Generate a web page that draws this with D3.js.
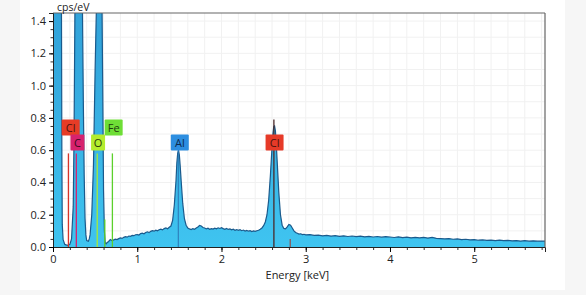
<!DOCTYPE html>
<html>
<head>
<meta charset="utf-8">
<script src="https://cdn.jsdelivr.net/npm/d3@7"></script>
<style>
  html, body { margin: 0; padding: 0; background: #f6f6f6; }
  #chart { width: 586px; height: 295px; }
  text { font-family: "Open Sans", "DejaVu Sans", sans-serif; }
</style>
</head>
<body>
<div id="chart"></div>
<script>
// spectrum: [energy keV, cps/eV]
var spectrum = [
  [0.00, 4.0], [0.05, 6.0], [0.09, 2.6], [0.10, 1.55], [0.105, 0.6], [0.11, 0.14], [0.12, 0.045],
  [0.14, 0.016], [0.17, 0.010], [0.20, 0.016], [0.22, 0.05], [0.24, 0.25], [0.25, 0.7],
  [0.26, 1.45], [0.27, 2.5], [0.30, 4.0], [0.33, 2.6], [0.35, 1.45], [0.36, 0.9], [0.37, 0.45],
  [0.38, 0.18], [0.39, 0.075], [0.40, 0.04], [0.42, 0.036], [0.43, 0.05], [0.44, 0.075],
  [0.46, 0.2], [0.48, 0.5], [0.50, 1.1], [0.52, 1.6], [0.55, 3.0], [0.58, 1.6], [0.59, 1.0],
  [0.60, 0.35], [0.61, 0.1], [0.62, 0.025], [0.63, 0.02],
  [0.64, 0.026], [0.66, 0.034], [0.68, 0.046], [0.70, 0.040], [0.72, 0.044], [0.74, 0.049],
  [0.76, 0.046], [0.78, 0.052], [0.80, 0.056], [0.82, 0.053], [0.84, 0.060], [0.86, 0.064],
  [0.88, 0.061], [0.90, 0.068], [0.92, 0.066], [0.94, 0.072], [0.96, 0.070], [0.98, 0.076],
  [1.00, 0.077], [1.02, 0.074], [1.04, 0.083], [1.06, 0.086], [1.08, 0.082], [1.10, 0.090],
  [1.12, 0.094], [1.14, 0.089], [1.16, 0.097], [1.18, 0.101], [1.20, 0.098], [1.22, 0.104],
  [1.24, 0.100], [1.26, 0.107], [1.28, 0.111], [1.30, 0.106], [1.32, 0.114], [1.34, 0.118],
  [1.36, 0.113], [1.38, 0.122], [1.40, 0.130], [1.42, 0.165], [1.44, 0.26], [1.46, 0.41],
  [1.47, 0.52], [1.48, 0.58], [1.49, 0.60], [1.50, 0.57], [1.51, 0.50], [1.52, 0.42],
  [1.54, 0.27], [1.56, 0.175], [1.58, 0.135], [1.60, 0.118], [1.62, 0.112], [1.64, 0.108],
  [1.66, 0.114], [1.68, 0.110], [1.70, 0.117], [1.72, 0.124], [1.74, 0.134], [1.76, 0.130],
  [1.78, 0.121], [1.80, 0.118], [1.82, 0.112], [1.84, 0.116], [1.86, 0.110], [1.88, 0.114],
  [1.90, 0.111], [1.92, 0.117], [1.94, 0.113], [1.96, 0.119], [1.98, 0.115], [2.00, 0.120],
  [2.02, 0.114], [2.04, 0.110], [2.06, 0.115], [2.08, 0.109], [2.10, 0.112], [2.12, 0.106],
  [2.14, 0.110], [2.16, 0.104], [2.18, 0.108], [2.20, 0.103], [2.22, 0.107], [2.24, 0.101],
  [2.26, 0.105], [2.28, 0.099], [2.30, 0.103], [2.32, 0.098], [2.34, 0.101], [2.36, 0.096],
  [2.38, 0.100], [2.40, 0.097], [2.42, 0.101], [2.44, 0.104], [2.46, 0.110], [2.48, 0.118],
  [2.50, 0.132], [2.52, 0.155], [2.54, 0.20], [2.56, 0.29], [2.58, 0.44], [2.60, 0.62],
  [2.61, 0.70], [2.62, 0.745], [2.63, 0.75], [2.64, 0.72], [2.65, 0.64], [2.66, 0.54],
  [2.68, 0.34], [2.70, 0.20], [2.72, 0.135], [2.74, 0.115], [2.76, 0.112], [2.78, 0.125],
  [2.80, 0.140], [2.82, 0.135], [2.84, 0.118], [2.86, 0.100], [2.88, 0.090], [2.90, 0.085],
  [2.92, 0.080], [2.94, 0.082], [2.96, 0.077], [2.98, 0.079], [3.00, 0.075], [3.05, 0.077],
  [3.10, 0.072], [3.15, 0.074], [3.20, 0.069], [3.25, 0.072], [3.30, 0.068], [3.35, 0.070],
  [3.40, 0.066], [3.45, 0.069], [3.50, 0.065], [3.55, 0.068], [3.60, 0.064], [3.65, 0.067],
  [3.70, 0.063], [3.75, 0.066], [3.80, 0.062], [3.85, 0.065], [3.90, 0.061], [3.95, 0.064],
  [4.00, 0.062], [4.05, 0.059], [4.10, 0.063], [4.15, 0.058], [4.20, 0.061], [4.25, 0.057],
  [4.30, 0.060], [4.35, 0.056], [4.40, 0.059], [4.45, 0.055], [4.50, 0.060], [4.55, 0.054],
  [4.60, 0.052], [4.65, 0.050], [4.70, 0.052], [4.75, 0.048], [4.80, 0.050], [4.85, 0.046],
  [4.90, 0.048], [4.95, 0.044], [5.00, 0.046], [5.05, 0.042], [5.10, 0.044], [5.15, 0.041],
  [5.20, 0.043], [5.25, 0.040], [5.30, 0.042], [5.35, 0.039], [5.40, 0.041], [5.45, 0.038],
  [5.50, 0.040], [5.55, 0.037], [5.60, 0.039], [5.65, 0.036], [5.70, 0.038], [5.75, 0.036],
  [5.80, 0.037], [5.84, 0.036]
];

// element marker lines
var markerEnergy = [0.183, 0.277, 0.525, 0.615, 0.705, 1.487, 2.622, 2.816];
var markerHeight = [0.58, 0.58, 0.58, 0.17, 0.58, 0.60, 0.79, 0.05];
var markerColor = ["#d8342a", "#d6226e", "#a6ea3a", "#5cd02c", "#5cd02c", "#2a74b4", "#4a2a2a", "#8a5a5a"];

// element labels
var labelText = ["Cl", "C", "O", "Fe", "Al", "Cl"];
var labelEnergy = [0.21, 0.29, 0.535, 0.72, 1.505, 2.63];
var labelLevel = [0.74, 0.647, 0.647, 0.74, 0.647, 0.647];
var labelColor = ["#e63c26", "#d6226e", "#b4ec2e", "#6ede36", "#2d8ee0", "#e63a28"];
var labelInk = ["#4a120c", "#3a0820", "#2a3a08", "#1e3a0c", "#0c2a4e", "#4a120c"];

var yTicks = [0.0, 0.2, 0.4, 0.6, 0.8, 1.0, 1.2, 1.4];
var xTicks = [0, 1, 2, 3, 4, 5];

var margin = { top: 13, right: 41, bottom: 48, left: 53 };
var W = 586, H = 295;
var width = W - margin.left - margin.right;
var height = H - margin.top - margin.bottom;

var svg = d3.select("#chart").append("svg")
  .attr("width", W).attr("height", H);

// white card
svg.append("rect").attr("x", 20).attr("y", 0).attr("width", 545).attr("height", 290)
  .attr("fill", "#ffffff");

var g = svg.append("g").attr("transform", "translate(" + margin.left + "," + margin.top + ")");

var x = d3.scaleLinear().domain([0, 5.84]).range([0, width]);
var y = d3.scaleLinear().domain([0, 1.45]).range([height, 0]);

// faint grid
g.append("g").selectAll("line").data(d3.range(0.1, 1.45, 0.1)).join("line")
  .attr("x1", 0).attr("x2", width).attr("y1", d => y(d)).attr("y2", d => y(d))
  .attr("stroke", "#f1f1f1");
g.append("g").selectAll("line").data(d3.range(0.2, 5.84, 0.2)).join("line")
  .attr("y1", 0).attr("y2", height).attr("x1", d => x(d)).attr("x2", d => x(d))
  .attr("stroke", "#f1f1f1");

var defs = svg.append("defs");
defs.append("clipPath").attr("id", "clip").append("rect")
  .attr("width", width).attr("height", height);
var grad = defs.append("linearGradient").attr("id", "fillGrad")
  .attr("x1", 0).attr("x2", 0).attr("y1", 0).attr("y2", 1);
grad.append("stop").attr("offset", "0%").attr("stop-color", "#2a86c6");
grad.append("stop").attr("offset", "80%").attr("stop-color", "#33a6dc");
grad.append("stop").attr("offset", "100%").attr("stop-color", "#3fc4f0");

var plot = g.append("g").attr("clip-path", "url(#clip)");

var area = d3.area()
  .x(d => x(d[0]))
  .y0(height)
  .y1(d => y(d[1]));
var line = d3.line()
  .x(d => x(d[0]))
  .y(d => y(d[1]));

plot.append("path").datum(spectrum)
  .attr("d", area)
  .attr("fill", "url(#fillGrad)");
plot.append("path").datum(spectrum)
  .attr("d", line)
  .attr("fill", "none")
  .attr("stroke", "#1a5a8c")
  .attr("stroke-width", 1.2);

// marker lines
plot.append("g").selectAll("line").data(markerEnergy).join("line")
  .attr("x1", d => x(d)).attr("x2", d => x(d))
  .attr("y1", height).attr("y2", (d, i) => y(markerHeight[i]))
  .attr("stroke", (d, i) => markerColor[i])
  .attr("stroke-width", (d, i) => i === 5 ? 1 : 1.3);

// label boxes
var lab = g.append("g").selectAll("g").data(labelText).join("g")
  .attr("transform", (d, i) => "translate(" + x(labelEnergy[i]) + "," + y(labelLevel[i]) + ")");
lab.append("rect")
  .attr("x", d => d.length > 1 ? -9 : -7)
  .attr("width", d => d.length > 1 ? 18 : 14)
  .attr("y", -8).attr("height", 16)
  .attr("rx", 1)
  .attr("fill", (d, i) => labelColor[i]);
lab.append("text")
  .attr("text-anchor", "middle")
  .attr("dy", "0.36em")
  .attr("font-size", 11)
  .attr("fill", (d, i) => labelInk[i])
  .text(d => d);

// frame top and right
g.append("line").attr("x1", 0).attr("x2", width).attr("y1", 0).attr("y2", 0)
  .attr("stroke", "#666").attr("stroke-width", 1.2);
g.append("line").attr("x1", width).attr("x2", width).attr("y1", 0).attr("y2", height)
  .attr("stroke", "#666").attr("stroke-width", 1.2);

// axes
var yAxis = d3.axisLeft(y).tickValues(yTicks).tickFormat(d3.format(".1f")).tickSize(4).tickPadding(3);
var yMinor = d3.axisLeft(y).tickValues(d3.range(0, 1.45, 0.05)).tickFormat("").tickSize(2.5);
var xAxis = d3.axisBottom(x).tickValues(xTicks).tickFormat(d3.format("d")).tickSize(5).tickPadding(3);
var xMinor = d3.axisBottom(x).tickValues(d3.range(0, 5.84, 0.2)).tickFormat("").tickSize(3);

g.append("g").call(yMinor).call(a => a.select(".domain").remove())
  .selectAll("line").attr("stroke", "#333");
g.append("g").call(yAxis).call(a => a.select(".domain").attr("stroke", "#222"))
  .call(a => a.selectAll("text").attr("font-size", 11).attr("fill", "#222")
    .attr("font-family", "'Open Sans', sans-serif"));
g.append("g").attr("transform", "translate(0," + height + ")").call(xMinor)
  .call(a => a.select(".domain").remove())
  .selectAll("line").attr("stroke", "#333");
g.append("g").attr("transform", "translate(0," + height + ")").call(xAxis)
  .call(a => a.select(".domain").attr("stroke", "#222"))
  .call(a => a.selectAll("text").attr("font-size", 11).attr("fill", "#222")
    .attr("font-family", "'Open Sans', sans-serif"));

// axis titles
g.append("text").attr("x", 4).attr("y", -2)
  .attr("font-size", 10.5).attr("fill", "#222").text("cps/eV");
g.append("text").attr("x", x(2.9)).attr("y", height + 32)
  .attr("text-anchor", "middle")
  .attr("font-size", 11).attr("fill", "#222").text("Energy [keV]");
</script>
</body>
</html>
